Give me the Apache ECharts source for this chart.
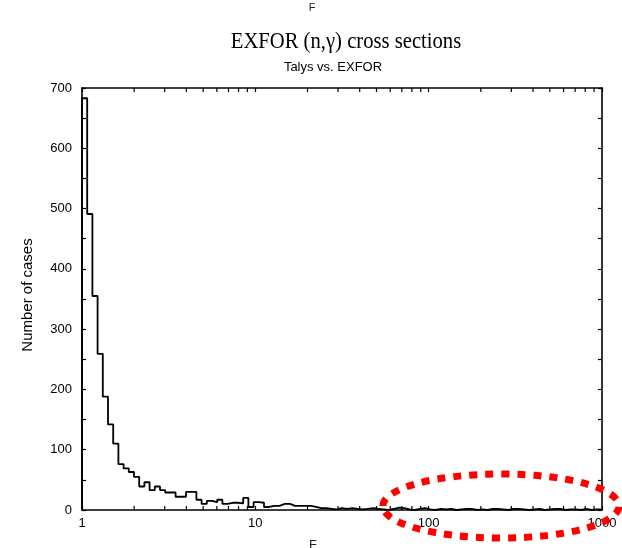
<!DOCTYPE html>
<html><head><meta charset="utf-8">
<script src="https://cdn.jsdelivr.net/npm/echarts@6/dist/echarts.min.js"></script>
<style>html,body{margin:0;padding:0;background:#fff}#c{width:622px;height:548px}</style>
</head><body><div id="c"></div>
<script>
// Histogram of F = Talys/EXFOR ratios: 100 logarithmic bins between 1 and 1000
const binLogWidth = 0.03;
const xMin = 1, xMax = 1000;
const counts = [683,491,355,259,188,142,110,76,69,63,
  55,39,46,33,39,33,29,29,22,22,
  30,30,17,10,15,13,17,10,12,12,
  11,20,5,13,12,5,7,7,10,10,
  7,7,7,7,5,3,3,2,1,3,
  2,3,2,1,2,3,2,1,0,2,
  4,3,1,0,2,3,1,0,2,1,
  2,0,1,2,2,0,1,0,2,2,
  1,0,2,2,1,0,1,2,0,1,
  2,2,0,1,1,0,2,0,1,1];
const xTickLabels = ['1','10','100','1000'];
const yTicks = [0,100,200,300,400,500,600,700];
const minorXTicks = [2,3,4,5,6,7,8,9,20,30,40,50,60,70,80,90,200,300,400,500,600,700,800,900];

const titleText = 'EXFOR (n,\u03B3) cross sections';
const subtitleText = 'Talys vs. EXFOR';
const yName = 'Number of cases';
const xName = 'F';

const stepPts = [[xMin, 0]];
counts.forEach((c, k) => stepPts.push([Math.pow(10, k * binLogWidth), c]));
stepPts.push([xMax, counts[counts.length - 1]]);
stepPts.push([xMax, 0]);

const chart = echarts.init(document.getElementById('c'), null, {renderer: 'canvas'});
const font = 'Liberation Sans';
const axisCommon = {
  axisLine: {show: true, onZero: false, lineStyle: {color: '#000', width: 1.6}},
  axisTick: {show: true, inside: true, length: 4, lineStyle: {color: '#000', width: 1.2}},
  splitLine: {show: false}
};
chart.setOption({
  animation: false,
  backgroundColor: '#fff',
  grid: {left: 82, top: 88, width: 520, height: 422, containLabel: false},
  xAxis: [
    Object.assign({}, axisCommon, {
      type: 'log', logBase: 10, min: xMin, max: xMax, position: 'bottom',
      axisLabel: {color: '#000', fontSize: 13, fontFamily: font, margin: 7,
        formatter: v => xTickLabels[Math.round(Math.log10(v))] || ''}
    }),
    Object.assign({}, axisCommon, {
      type: 'log', logBase: 10, min: xMin, max: xMax, position: 'top',
      axisLabel: {show: false}
    })
  ],
  yAxis: [
    Object.assign({}, axisCommon, {
      type: 'value', min: 0, max: 700, interval: 100, position: 'left',
      minorTick: {show: true, splitNumber: 2, length: 4, lineStyle: {color: '#000', width: 1.2}},
      axisLabel: {color: '#000', fontSize: 13, fontFamily: font, margin: 10,
        formatter: v => yTicks.indexOf(v) >= 0 ? String(v) : ''}
    }),
    Object.assign({}, axisCommon, {
      type: 'value', min: 0, max: 700, interval: 100, position: 'right',
      minorTick: {show: true, splitNumber: 2, length: 4, lineStyle: {color: '#000', width: 1.2}},
      axisLabel: {show: false}
    })
  ],
  graphic: [
    {type: 'text', x: 346, y: 42, scaleX: 0.86, z: 10,
      style: {text: titleText, font: '24px "Liberation Serif"', fill: '#000', align: 'center', verticalAlign: 'middle'}},
    {type: 'text', x: 333, y: 67, z: 10,
      style: {text: subtitleText, font: '13px "Liberation Sans"', fill: '#000', align: 'center', verticalAlign: 'middle'}},
    {type: 'text', x: 28, y: 295, rotation: Math.PI / 2, z: 10,
      style: {text: yName, font: '15px "Liberation Sans"', fill: '#000', align: 'center', verticalAlign: 'middle'}},
    {type: 'text', x: 312, y: 2, z: 10,
      style: {text: xName, font: '11px "Liberation Sans"', fill: '#222', align: 'center', verticalAlign: 'top'}},
    {type: 'text', x: 313, y: 539, z: 10,
      style: {text: xName, font: '13px "Liberation Sans"', fill: '#222', align: 'center', verticalAlign: 'top'}},
    {type: 'ellipse', z: 100, shape: {cx: 501, cy: 506, rx: 118, ry: 32},
      style: {fill: 'none', stroke: '#ff0000', lineWidth: 7, lineDash: [8, 8]}}
  ],
  series: [
    {
      type: 'line', xAxisIndex: 0, yAxisIndex: 0, data: stepPts, step: 'end',
      showSymbol: false, symbol: 'none', clip: false,
      lineStyle: {color: '#000', width: 1.8}, z: 5
    },
    {
      type: 'custom', xAxisIndex: 0, yAxisIndex: 0, silent: true, clip: false,
      data: minorXTicks.map(v => [v, 0]),
      renderItem: (params, api) => {
        const b = api.coord([api.value(0), 0]);
        const t = api.coord([api.value(0), 700]);
        return {type: 'group', children: [
          {type: 'line', shape: {x1: b[0], y1: b[1], x2: b[0], y2: b[1] - 4}, style: {stroke: '#000', lineWidth: 1.2}},
          {type: 'line', shape: {x1: t[0], y1: t[1], x2: t[0], y2: t[1] + 4}, style: {stroke: '#000', lineWidth: 1.2}}
        ]};
      }
    }
  ]
});
</script>
</body></html>
